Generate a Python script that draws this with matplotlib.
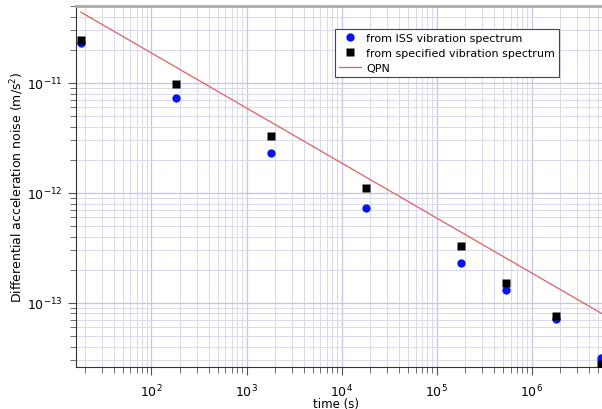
import numpy as np
import matplotlib.pyplot as plt
from matplotlib.ticker import LogLocator, NullFormatter

# averaging times (s)
time_s = [18, 180, 1800, 18000, 180000, 540000, 1.8e6, 5.4e6]

# differential acceleration noise (m/s^2)
iss_noise = [2.31e-11, 7.35e-12, 2.31e-12, 7.3e-13, 2.31e-13, 1.31e-13, 7.1e-14, 3.16e-14]
spec_noise = [2.43e-11, 9.8e-12, 3.3e-12, 1.11e-12, 3.32e-13, 1.51e-13, 7.6e-14, 2.8e-14]

# QPN line end points
qpn_time = [18, 5.6e6]
qpn_noise = [4.4e-11, 7.9e-14]

fig = plt.figure(figsize=(6.02, 4.10), dpi=100)
ax = fig.add_axes([0.126, 0.102, 0.874, 0.881])

ax.set_xscale("log")
ax.set_yscale("log")
ax.set_xlim(16, 5.5e6)
ax.set_ylim(2.6e-14, 5.0e-11)

ax.xaxis.set_major_locator(LogLocator(base=10))
ax.xaxis.set_minor_locator(LogLocator(base=10, subs=np.arange(2, 10)))
ax.yaxis.set_major_locator(LogLocator(base=10))
ax.yaxis.set_minor_locator(LogLocator(base=10, subs=np.arange(2, 10)))
ax.xaxis.set_minor_formatter(NullFormatter())
ax.yaxis.set_minor_formatter(NullFormatter())

ax.grid(True, which="major", color="#c6c6e6", lw=0.9)
ax.grid(True, which="minor", color="#d8d8ef", lw=0.7)
ax.set_axisbelow(True)

ax.plot(qpn_time, qpn_noise, color="#e06060", lw=0.9, label="QPN", zorder=2)
ax.plot(time_s, iss_noise, "o", color="#0a14ee", ms=6, mec="none",
        label="from ISS vibration spectrum", zorder=3)
ax.plot(time_s, spec_noise, "s", color="black", ms=6, mec="none",
        label="from specified vibration spectrum", zorder=4)

for s in ["top", "right"]:
    ax.spines[s].set_visible(False)
ax.spines["left"].set_color("#333333")
ax.spines["bottom"].set_color("#333333")
ax.tick_params(which="major", direction="out", length=6, width=0.8, color="#555555",
               labelsize=9)
ax.tick_params(which="minor", direction="out", length=4, width=0.6, color="#555555")
ax.tick_params(axis="x", pad=5)

# gray frame line along the top
fig.add_artist(plt.Line2D([0.126, 1.0], [0.983, 0.983], color="#aaaaaa", lw=2))

ax.set_xlabel("time (s)", fontsize=8.5)
ax.xaxis.set_label_coords(0.495, -0.083)
ax.set_ylabel("Differential acceleration noise (m/s$^2$)", fontsize=9)
ax.yaxis.set_label_coords(-0.095, 0.5)

h, l = ax.get_legend_handles_labels()
order = [1, 2, 0]
leg = ax.legend([h[i] for i in order], [l[i] for i in order], loc="upper left",
                bbox_to_anchor=(0.492, 0.935), fontsize=8, frameon=True,
                fancybox=False, edgecolor="#444444", framealpha=1,
                handlelength=2.0, handletextpad=0.5, borderpad=0.35,
                labelspacing=0.45, borderaxespad=0)
leg.get_frame().set_linewidth(0.8)

fig.savefig("out.png", dpi=100)
